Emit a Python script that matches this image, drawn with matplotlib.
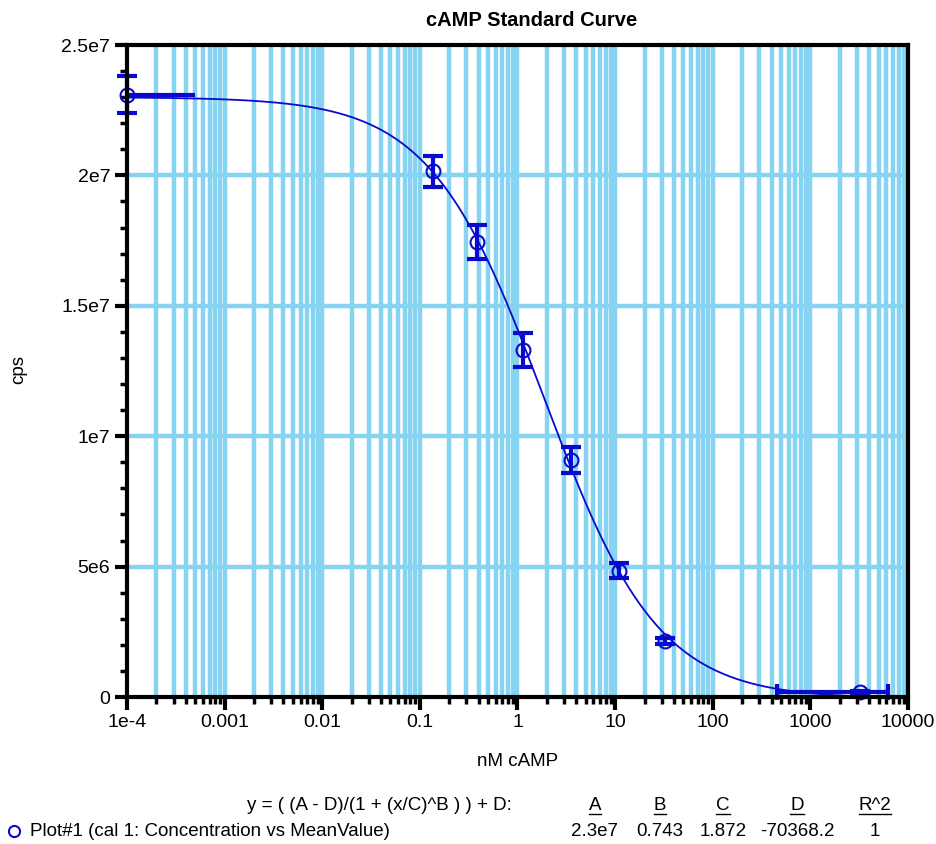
import numpy as np
import matplotlib
matplotlib.use('Agg')
import matplotlib.pyplot as plt
from matplotlib.lines import Line2D
from matplotlib.ticker import FixedLocator, LogLocator, NullFormatter

plt.rcParams['font.family'] = ['Liberation Sans', 'DejaVu Sans']

# data
conc = [1e-4, 0.137, 0.385, 1.14, 3.53, 11.0, 32.4, 3200]
mean_cps = [23.1e6, 20.15e6, 17.45e6, 13.3e6, 9.1e6, 4.85e6, 2.15e6, 0.19e6]
cps_err = [0.7e6, 0.6e6, 0.65e6, 0.65e6, 0.5e6, 0.3e6, 0.1e6, 0.05e6]
xerr_lo = [0, 0, 0, 0, 0, 0, 0, 2745]
xerr_hi = [4e-4, 0, 0, 0, 0, 0, 0, 3000]

# fit parameters shown under the chart
A, B, C, D = 2.3e7, 0.743, 1.872, -70368.2
param_names = ['A', 'B', 'C', 'D', 'R^2']
param_vals = ['2.3e7', '0.743', '1.872', '-70368.2', '1']

x_ticks = [1e-4, 1e-3, 1e-2, 0.1, 1, 10, 100, 1000, 10000]
x_labels = ['1e-4', '0.001', '0.01', '0.1', '1', '10', '100', '1000', '10000']
y_ticks = [0, 5e6, 1e7, 1.5e7, 2e7, 2.5e7]
y_labels = ['0', '5e6', '1e7', '1.5e7', '2e7', '2.5e7']

blue = '#0a0acc'
grid_c = '#86d3f2'

fig = plt.figure(figsize=(9.37, 8.44), dpi=100)
ax = fig.add_axes([127 / 937, 1 - 697 / 844, 781 / 937, 652 / 844])
ax.set_xscale('log')
ax.set_xlim(1e-4, 1e4)
ax.set_ylim(0, 2.5e7)

# grid: thick lines at every log tick, thick horizontals at the majors
minor_x = [m * 10.0 ** e for e in range(-4, 4) for m in range(2, 10)]
for xv in minor_x + x_ticks[1:-1]:
    ax.axvline(xv, color=grid_c, lw=3.2, zorder=0)
for yv in y_ticks[1:-1]:
    ax.axhline(yv, color=grid_c, lw=3.2, zorder=0)

# fitted 4PL curve from the displayed parameters
xs = np.logspace(-4, 4, 600)
ys = D + (A - D) / (1 + (xs / C) ** B)
ax.plot(xs, ys, color=blue, lw=1.3, zorder=3)

eb = ax.errorbar(conc, mean_cps, yerr=cps_err, fmt='none', ecolor=blue,
                 elinewidth=3, capsize=7, capthick=3, zorder=4)
eb2 = ax.errorbar(conc[-1:], mean_cps[-1:], xerr=[xerr_lo[-1:], xerr_hi[-1:]], fmt='none',
                  ecolor=blue, elinewidth=3, capsize=6, capthick=3, zorder=4)
eb3 = ax.errorbar(conc[:1], mean_cps[:1], xerr=[xerr_lo[:1], xerr_hi[:1]], fmt='none',
                  ecolor=blue, elinewidth=3, capsize=0, zorder=4)
for e in (eb, eb2, eb3):
    for art in e.lines[1] + e.lines[2]:
        art.set_clip_on(False)
ax.plot(conc, mean_cps, 'o', mfc='none', mec=blue, ms=10, mew=1.5, zorder=5,
        clip_on=False)

ax.xaxis.set_major_locator(FixedLocator(x_ticks))
ax.set_xticklabels(x_labels)
ax.xaxis.set_minor_locator(LogLocator(base=10, subs=np.arange(2, 10), numticks=20))
ax.xaxis.set_minor_formatter(NullFormatter())
ax.set_yticks(y_ticks)
ax.set_yticklabels(y_labels)
ax.set_yticks(np.arange(0, 2.5e7, 1e6), minor=True)

ax.tick_params(which='major', length=9, width=3, labelsize=14, color='black', pad=3)
ax.tick_params(which='minor', length=5, width=2.5)
for s in ax.spines.values():
    s.set_linewidth(3)
    s.set_zorder(6)

fig.text(532 / 937, 1 - 20 / 844, 'cAMP Standard Curve', ha='center', va='center',
         fontsize=14.5, fontweight='bold')
fig.text(518 / 937, 1 - 762 / 844, 'nM cAMP', ha='center', va='center', fontsize=13.5)
fig.text(19 / 937, 1 - 370 / 844, 'cps', ha='center', va='center', fontsize=13.5,
         rotation=90)

# equation / parameter table under the chart
fig.text(512 / 937, 1 - 805 / 844, 'y = ( (A - D)/(1 + (x/C)^B ) ) + D:',
         ha='right', va='center', fontsize=13.5)
cols = [595, 660, 723, 797, 875]
heads = []
for cx, name, val in zip(cols, param_names, param_vals):
    heads.append(fig.text(cx / 937, 1 - 805 / 844, name, ha='center', va='center', fontsize=13.5))
    fig.text(cx / 937, 1 - 831 / 844, val, ha='center', va='center', fontsize=13.5)
fig.text(30 / 937, 1 - 831 / 844, 'Plot#1 (cal 1: Concentration vs MeanValue)',
         ha='left', va='center', fontsize=13.5)
fig.add_artist(Line2D([14 / 937], [1 - 831 / 844], marker='o', mfc='none', mec=blue,
                      ms=8, mew=1.5, ls='none'))

fig.canvas.draw()
rend = fig.canvas.get_renderer()
inv = fig.transFigure.inverted()
for t in heads:
    bb = t.get_window_extent(rend).transformed(inv)
    fig.add_artist(Line2D([bb.x0, bb.x1], [bb.y0 - 0.001, bb.y0 - 0.001], color='black', lw=1))

fig.savefig('out.png', dpi=100)
